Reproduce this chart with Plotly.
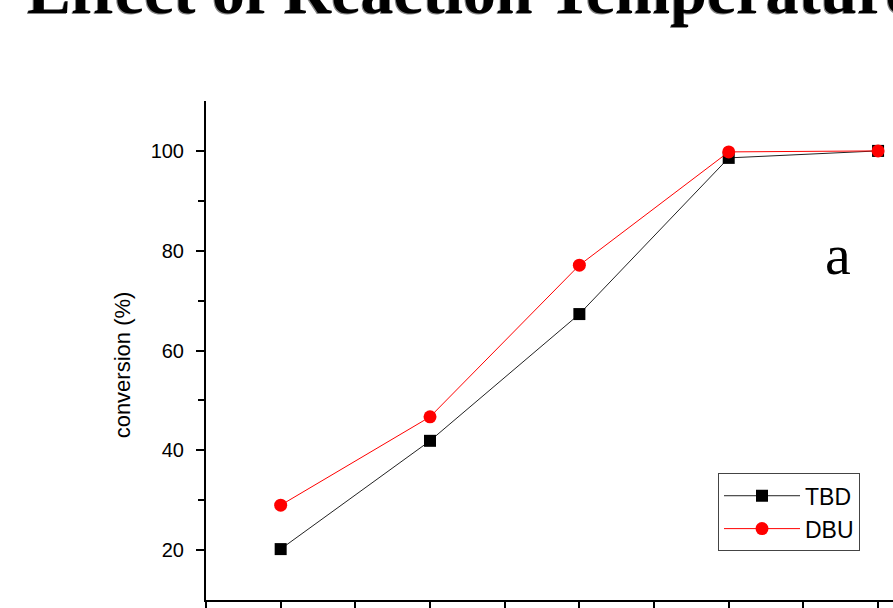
import plotly.graph_objects as go

temperature = [30, 40, 50, 60, 70]
tbd = [20.2, 41.9, 67.3, 98.6, 100.0]
dbu = [29.0, 46.7, 77.1, 99.8, 100.0]

W, H = 893, 608
ML, MR, MT, MB = 206, 0, 101, 3
PW, PH = W - ML - MR, H - MT - MB

fig = go.Figure()
fig.add_trace(go.Scatter(
    x=temperature, y=tbd, name="TBD", mode="lines+markers",
    line=dict(color="#222222", width=1),
    marker=dict(symbol="square", size=12, color="black"),
))
fig.add_trace(go.Scatter(
    x=temperature, y=dbu, name="DBU", mode="lines+markers",
    line=dict(color="red", width=1),
    marker=dict(symbol="circle", size=13, color="red"),
))

title = "Effect of Reaction Temperature"
for dx, dy, col in [(-1, 1, "#888888"), (0, 0, "black")]:
    fig.add_annotation(
        text="<b>" + title + "</b>", xref="paper", yref="paper",
        x=(25 + dx - ML) / PW, y=1 + (MT + 11 - dy) / PH,
        xanchor="left", yanchor="middle", showarrow=False,
        font=dict(family="Liberation Serif", size=66, color=col),
    )

fig.add_annotation(
    text="a", xref="paper", yref="paper",
    x=(838 - ML) / PW, y=(H - MB - 256) / PH,
    xanchor="center", yanchor="middle", showarrow=False,
    font=dict(family="Liberation Serif", size=58, color="black"),
)

fig.add_annotation(
    text="conversion (%)", xref="paper", yref="paper",
    x=(122 - ML) / PW, y=(H - MB - 368) / PH,
    xanchor="center", yanchor="middle", showarrow=False, textangle=-90,
    font=dict(family="Liberation Sans", size=22, color="black"),
)

fig.update_layout(
    width=W, height=H,
    margin=dict(l=ML, r=MR, t=MT, b=MB, pad=0),
    paper_bgcolor="white", plot_bgcolor="white",
    showlegend=True,
    legend=dict(
        x=(718 - ML) / PW, y=(H - MB - 477) / PH,
        xanchor="left", yanchor="top",
        bordercolor="#444444", borderwidth=1, bgcolor="white",
        font=dict(family="Liberation Sans", size=23, color="black"),
        tracegroupgap=0, itemwidth=76,
    ),
    font=dict(family="Liberation Sans", color="black"),
)

fig.update_xaxes(
    range=[25, 71], showgrid=False, zeroline=False,
    showline=True, linecolor="black", linewidth=2,
    ticks="outside", ticklen=8, tickwidth=1.5, tickcolor="black",
    tickmode="linear", tick0=25, dtick=5, showticklabels=False,
)
fig.update_yaxes(
    range=[10, 110], showgrid=False, zeroline=False,
    showline=True, linecolor="black", linewidth=2,
    ticks="outside", ticklen=8, tickwidth=1.5, tickcolor="black",
    tickmode="array", tickvals=[20, 40, 60, 80, 100], ticktext=["20", "40", "60", "80", "100"],
    tickfont=dict(family="Liberation Sans", size=20, color="black"),
    ticklabelstandoff=8,
    minor=dict(tickmode="array", tickvals=[30, 50, 70, 90], ticks="outside",
               ticklen=6, tickwidth=1.5, tickcolor="black"),
)

fig.write_html("out.html")
